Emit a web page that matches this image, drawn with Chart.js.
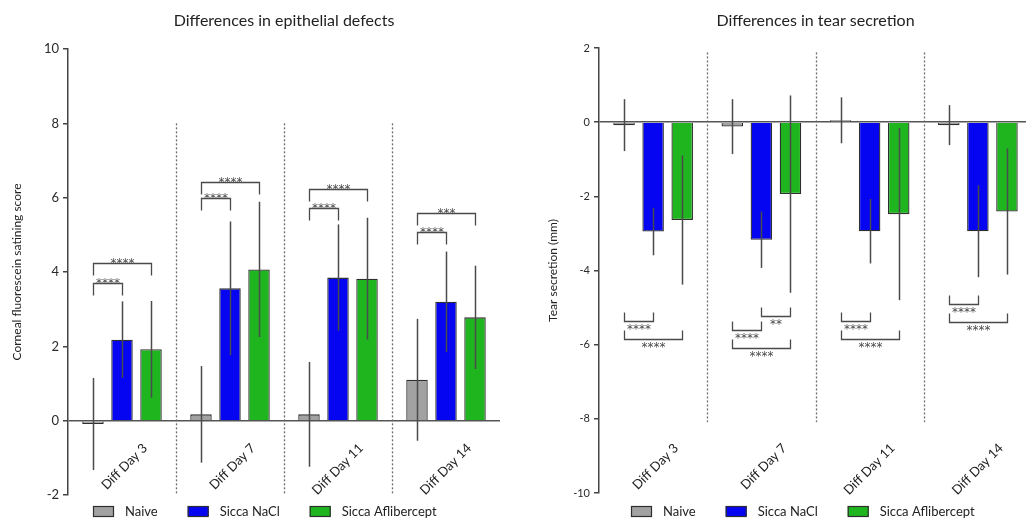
<!DOCTYPE html>
<html><head><meta charset="utf-8">
<script src="https://cdn.jsdelivr.net/npm/chart.js@4"></script>
<style>
html,body{margin:0;padding:0;background:#fff;overflow:hidden;width:1026px;height:519px;position:relative;}
#l{position:absolute;left:0;top:0;}
#r{position:absolute;left:520px;top:0;}
</style></head><body>
<canvas id="l" width="513" height="519"></canvas>
<canvas id="r" width="516" height="519"></canvas>
<script>
// ---------- data ----------
const categories = ['Diff Day 3', 'Diff Day 7', 'Diff Day 11', 'Diff Day 14'];
const seriesNames = ['Naive', 'Sicca NaCl', 'Sicca Aflibercept'];

// Corneal fluorescein staining score (mean, SD)
const epiNaive    = [-0.09, 0.17, 0.17, 1.10];
const epiNaCl     = [2.18, 3.56, 3.85, 3.20];
const epiAfli     = [1.92, 4.07, 3.82, 2.78];
const epiNaiveSD  = [1.24, 1.30, 1.41, 1.64];
const epiNaClSD   = [1.03, 1.80, 1.43, 1.35];
const epiAfliSD   = [1.30, 1.82, 1.64, 1.39];
const epiTicks    = [-2, 10, 2];   // min, max, step

// Tear secretion (mm) (mean, SD)
const tearNaive   = [-0.08, -0.12, 0.05, -0.08];
const tearNaCl    = [-2.95, -3.17, -2.94, -2.94];
const tearAfli    = [-2.64, -1.94, -2.48, -2.41];
const tearNaiveSD = [0.70, 0.74, 0.62, 0.54];
const tearNaClSD  = [0.64, 0.76, 0.87, 1.24];
const tearAfliSD  = [1.74, 2.66, 2.32, 1.70];
const tearTicks   = [-10, 2, 2];

// significance brackets: [category, fromSeries, toSeries, level, stars]
const epiSig = [
  [0, 0, 1, 3.71, '****'], [0, 0, 2, 4.25, '****'],
  [1, 0, 1, 6.00, '****'], [1, 0, 2, 6.42, '****'],
  [2, 0, 1, 5.73, '****'], [2, 0, 2, 6.24, '****'],
  [3, 0, 1, 5.08, '****'], [3, 0, 2, 5.59, '***']
];
const tearSig = [
  [0, 0, 1, -5.36, '****'], [0, 0, 2, -5.84, '****'],
  [1, 0, 1, -5.61, '****'], [1, 1, 2, -5.23, '**'], [1, 0, 2, -6.09, '****'],
  [2, 0, 1, -5.36, '****'], [2, 0, 2, -5.84, '****'],
  [3, 0, 1, -4.90, '****'], [3, 0, 2, -5.38, '****']
];

// ---------- style ----------
const FILL = ['#a2a2a2', '#0505f2', '#1fb51f'];
const EDGE = '#2e2e2e';
const FONT = 'Lato, "Open Sans", sans-serif';

const extras = {
  id: 'extras',
  afterDatasetsDraw(chart, args, o) {
    const ctx = chart.ctx, x = chart.scales.x, y = chart.scales.y, ca = chart.chartArea;
    ctx.save();
    // error bars
    ctx.strokeStyle = '#4a4a4a'; ctx.lineWidth = 1.5;
    o.errors.forEach((sd, i) => {
      const meta = chart.getDatasetMeta(i);
      const vals = chart.data.datasets[i].data;
      meta.data.forEach((bar, j) => {
        ctx.beginPath();
        ctx.moveTo(Math.round(bar.x) + 0.5, y.getPixelForValue(vals[j] + sd[j]));
        ctx.lineTo(Math.round(bar.x) + 0.5, y.getPixelForValue(vals[j] - sd[j]));
        ctx.stroke();
      });
    });
    // separators
    ctx.strokeStyle = '#6a6a6a'; ctx.lineWidth = 1.3; ctx.setLineDash([2, 2]);
    for (let i = 0; i < categories.length - 1; i++) {
      const sx = Math.round((x.getPixelForValue(i) + x.getPixelForValue(i + 1)) / 2) + 0.5;
      ctx.beginPath();
      ctx.moveTo(sx, y.getPixelForValue(o.sepRange[0]));
      ctx.lineTo(sx, y.getPixelForValue(o.sepRange[1]));
      ctx.stroke();
    }
    ctx.setLineDash([]);
    // brackets
    ctx.strokeStyle = '#4a4a4a'; ctx.lineWidth = 1.3;
    ctx.fillStyle = '#4a4a4a'; ctx.font = '12px "DejaVu Sans"'; ctx.textAlign = 'center';
    ctx.textBaseline = 'alphabetic';
    o.sig.forEach(([c, a, b, lvl, s]) => {
      const xa = Math.round(chart.getDatasetMeta(a).data[c].x) + 0.5;
      const xb = Math.round(chart.getDatasetMeta(b).data[c].x) + 0.5;
      const yy = Math.round(y.getPixelForValue(lvl)) + 0.5;
      const leg = o.below ? -o.leg : o.leg;
      ctx.beginPath();
      ctx.moveTo(xa, yy + leg); ctx.lineTo(xa, yy); ctx.lineTo(xb, yy); ctx.lineTo(xb, yy + leg);
      ctx.stroke();
      ctx.fillText(s, (xa + xb) / 2, o.below ? yy + 11 : yy + 3);
    });
    // category labels (rotated)
    ctx.fillStyle = '#222'; ctx.font = '13px ' + FONT;
    ctx.textAlign = 'right'; ctx.textBaseline = 'middle';
    chart.data.labels.forEach((lab, i) => {
      ctx.save();
      ctx.translate(x.getPixelForValue(i) + o.labelDx, ca.bottom - o.labelUp);
      ctx.rotate(-Math.PI / 4);
      ctx.fillText(lab, 0, 0);
      ctx.restore();
    });
    // legend
    let lx = o.legendX;
    const ly = o.legendY;
    ctx.font = '13px ' + FONT; ctx.textAlign = 'left'; ctx.textBaseline = 'middle';
    chart.data.datasets.forEach(ds => {
      ctx.fillStyle = ds.backgroundColor;
      ctx.fillRect(lx, ly - 5, 21, 10);
      ctx.strokeStyle = EDGE; ctx.lineWidth = 1.2;
      ctx.strokeRect(lx + 0.5, ly - 5 + 0.5, 20, 10);
      ctx.fillStyle = '#222';
      ctx.fillText(ds.label, lx + 32, ly + 1);
      lx += 32 + ctx.measureText(ds.label).width + 30;
    });
    ctx.restore();
  }
};

function makeChart(id, title, yTitle, series, sds, ticks, sig, o) {
  return new Chart(document.getElementById(id), {
    type: 'bar',
    data: {
      labels: categories,
      datasets: series.map((d, i) => ({
        label: seriesNames[i], data: d,
        backgroundColor: FILL[i], borderColor: EDGE, borderWidth: 1.3,
        categoryPercentage: 0.806, barPercentage: 0.74
      }))
    },
    options: {
      responsive: false, animation: false,
      layout: { padding: { left: 0, right: o.padRight, top: 0, bottom: o.padBottom } },
      scales: {
        x: { display: false },
        y: {
          min: ticks[0], max: ticks[1],
          ticks: { stepSize: ticks[2], color: '#2a2a2a', font: { family: FONT, size: o.tickSize }, padding: 4 },
          grid: {
            color: c => (c.tick && c.tick.value === 0) ? '#555' : 'rgba(0,0,0,0)',
            lineWidth: 1.5, tickColor: '#444', tickLength: 5, drawTicks: true
          },
          border: { display: true, color: '#444', width: 1.5 },
          title: { display: true, text: yTitle, color: '#222', font: { family: FONT, size: 12 }, padding: { top: o.yTitlePad, bottom: 0 } },
          afterFit: s => { s.width = o.axisW; }
        }
      },
      plugins: {
        legend: { display: false },
        tooltip: { enabled: false },
        title: {
          display: true, text: title, fullSize: false, color: '#222',
          font: { family: FONT, size: 16, weight: 'normal' },
          padding: { top: 11, bottom: o.titleBottom }
        },
        extras: Object.assign({ errors: sds, sig: sig }, o)
      }
    },
    plugins: [extras]
  });
}

makeChart('l', 'Differences in epithelial defects', 'Corneal fluorescein satining score',
  [epiNaive, epiNaCl, epiAfli], [epiNaiveSD, epiNaClSD, epiAfliSD], epiTicks, epiSig,
  { padRight: 13, padBottom: 24, axisW: 68, yTitlePad: 10, titleBottom: 18.8, tickSize: 13,
    sepRange: [8, -1.96], below: false, leg: 12, labelDx: 23, labelUp: 49, legendX: 93, legendY: 511 });

makeChart('r', 'Differences in tear secretion', 'Tear secretion (mm)',
  [tearNaive, tearNaCl, tearAfli], [tearNaiveSD, tearNaClSD, tearAfliSD], tearTicks, tearSig,
  { padRight: 4, padBottom: 26, axisW: 79, yTitlePad: 26, titleBottom: 17.8, tickSize: 11,
    sepRange: [1.88, -8.09], below: true, leg: 9, labelDx: 23, labelUp: 47, legendX: 111, legendY: 511 });
</script>
</body></html>
